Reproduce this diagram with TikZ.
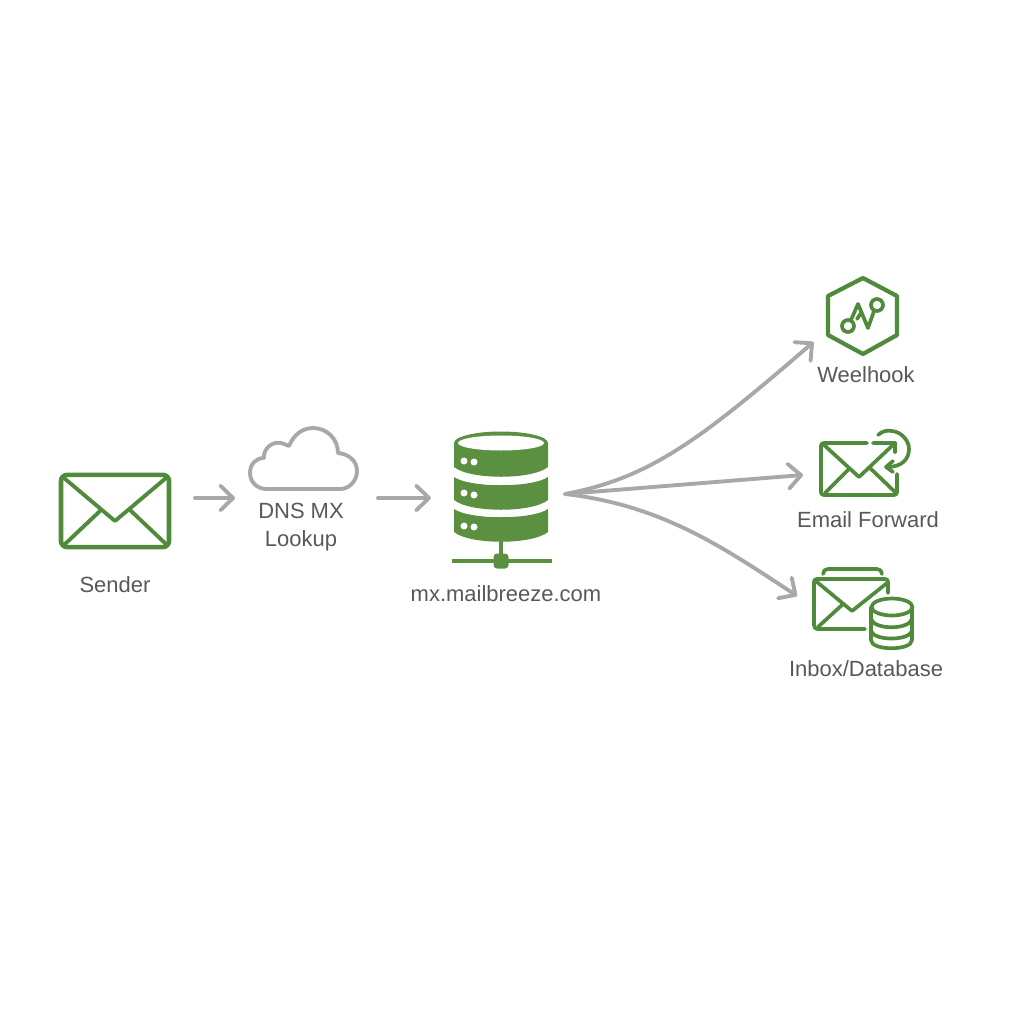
\documentclass[tikz,border=0pt]{standalone}
\usepackage{fontspec}
\setmainfont{Liberation Sans}
\usetikzlibrary{arrows.meta}
\definecolor{leaf}{HTML}{4F8B3B}
\definecolor{slab}{HTML}{5A9040}
\definecolor{pipe}{HTML}{A8A8A8}
\definecolor{ink}{HTML}{585858}
\tikzset{
	x=0.01cm, y=-0.01cm,
	iconline/.style={draw=leaf, line width=1.05pt, line cap=round, line join=round},
	frame/.style={inner sep=0pt, outer sep=0pt},
	flow/.style={draw=pipe, line width=1.1pt, line cap=round, -{Straight Barb[length=3.6pt,width=7pt,round]}},
	caption/.style={text=ink, font=\fontsize{6.25}{8}\selectfont, align=center, inner sep=0pt}
}
\begin{document}
\begin{tikzpicture}
	\useasboundingbox (0,0) rectangle (1024,1024);
	% sender
	\node (sender) [frame, draw=leaf, line width=1.3pt, rounded corners=1.7pt, minimum width=30.7pt, minimum height=20.5pt] at (115,511) {};
	\draw [iconline, line width=1.1pt] (64,478) -- (115,521) -- (166,478);
	\draw [iconline, line width=1.1pt] (64,545) -- (100,511);
	\draw [iconline, line width=1.1pt] (130,510) -- (167,545);
	\node (sendertext) [caption] at (115,585) {Sender};
	% dns cloud
	\node (cloud) [frame, minimum width=30.7pt, minimum height=18pt] at (304,458) {};
	\draw [draw=pipe, line width=1.1pt, line join=round] (267,489)
		.. controls (257,489) and (250,482) .. (250,473)
		.. controls (250,464) and (256,458) .. (264,458)
		.. controls (263,449) and (272,441) .. (281,443)
		.. controls (284,444) and (287,445) .. (289,446)
		.. controls (294,434) and (303,428) .. (313,428)
		.. controls (327,428) and (338,439) .. (338,453)
		.. controls (349,454) and (357,461) .. (357,471)
		.. controls (357,481) and (349,489) .. (340,489)
		-- cycle;
	\node (dnstext) [caption] at (301,527) {DNS MX\\Lookup};
	% mail server
	\node (server) [frame, minimum width=26.8pt, minimum height=29pt] at (501,482) {};
	\fill [slab] (454,443) -- (454,467) .. controls (470,480) and (532,480) .. (548,467) -- (548,443) -- cycle;
	\fill [slab] (501,443) ellipse (47 and 11.5);
	\fill [white] (501,443) ellipse (43 and 7.5);
	\fill [slab] (454,477) .. controls (470,488) and (532,488) .. (548,477) -- (548,500) .. controls (532,513) and (470,513) .. (454,500) -- cycle;
	\fill [slab] (454,509) .. controls (470,520) and (532,520) .. (548,509) -- (548,532) .. controls (532,545) and (470,545) .. (454,532) -- cycle;
	\foreach \ya/\yb in {461/462, 493/495, 526/527} {
		\fill [white] (464,\ya) circle (3.5);
		\fill [white] (474,\yb) circle (3.5);
	}
	\draw [draw=slab, line width=1.05pt] (501,540) -- (501,560);
	\draw [draw=slab, line width=1.05pt] (452,561) -- (552,561);
	\fill [slab, rounded corners=1pt] (493.5,553.5) rectangle (508.5,568.5);
	\node (servertext) [caption] at (506,594) {mx.mailbreeze.com};
	% webhook
	\node (hook) [frame, minimum width=19.6pt, minimum height=21.6pt] at (863,316) {};
	\draw [iconline, line width=1.2pt] (863,278) -- (897,296) -- (897,335) -- (863,354) -- (828,335) -- (828,296) -- cycle;
	\draw [iconline] (848,326) circle (6);
	\draw [iconline] (877,305) circle (6);
	\draw [iconline] (851,320) -- (858,304) -- (868,328) -- (874,311);
	\draw [iconline] (857,319) -- (861,313);
	\node (hooktext) [caption] at (866,375) {Weelhook};
	% forward
	\node (fwd) [frame, minimum width=21.6pt, minimum height=14.8pt] at (859,469) {};
	\draw [iconline] (867,443) -- (824,443) .. controls (822,443) and (821,444) .. (821,446) -- (821,492) .. controls (821,494) and (822,495) .. (824,495) -- (894,495) .. controls (896,495) and (897,494) .. (897,492) -- (897,474);
	\draw [iconline] (873,443) -- (895,443) -- (859,477) -- (824,445);
	\draw [iconline] (895,443) -- (895,452);
	\draw [iconline] (825,493) -- (848,470);
	\draw [iconline] (870,468) -- (895,492);
	\draw [iconline] (878,435) .. controls (882,431) and (888,430) .. (892,431) .. controls (902,432) and (909,441) .. (909,449) .. controls (909,459) and (902,467) .. (887,467);
	\draw [iconline] (893,461) -- (886,467) -- (893,472);
	\node (fwdtext) [caption] at (868,520) {Email Forward};
	% inbox
	\node (inbox) [frame, minimum width=21pt, minimum height=14pt] at (851,604) {};
	\draw [iconline] (823,574) .. controls (823,571) and (825,569) .. (828,569) -- (877,569) .. controls (880,569) and (882,571) .. (882,574);
	\draw [iconline] (888,593) -- (888,582) .. controls (888,580) and (887,579) .. (885,579) -- (817,579) .. controls (815,579) and (814,580) .. (814,582) -- (814,625) .. controls (814,627) and (815,629) .. (817,629) -- (865,629);
	\draw [iconline] (817,582) -- (852,611) -- (887,583);
	\draw [iconline] (818,627) -- (842,605);
	\draw [iconline, fill=white] (871,607) -- (871,640) .. controls (871,651) and (912,651) .. (912,640) -- (912,607);
	\draw [iconline, fill=white] (892,607) ellipse (20.5 and 8.5);
	\draw [iconline] (871,619) .. controls (874,630) and (909,630) .. (912,619);
	\draw [iconline] (871,631) .. controls (874,641) and (909,641) .. (912,631);
	\node (inboxtext) [caption] at (866,669) {Inbox/Database};
	% connectors
	\coordinate (fan) at ([shift={(17,12)}]server.east);
	\draw [flow] ([shift={(26,-13)}]sender.east) -- ([shift={(-15,40)}]cloud.west);
	\draw [flow] ([shift={(20,40)}]cloud.east) -- ([shift={(-23,16)}]server.west);
	\draw [flow] (fan) .. controls (650,478) and (700,440) .. ([shift={(-15,26)}]hook.west);
	\draw [flow] (fan) -- ([shift={(-18,6)}]fwd.west);
	\draw [flow] (fan) .. controls (660,505) and (720,545) .. ([shift={(-17,-8)}]inbox.west);
\end{tikzpicture}
\end{document}
